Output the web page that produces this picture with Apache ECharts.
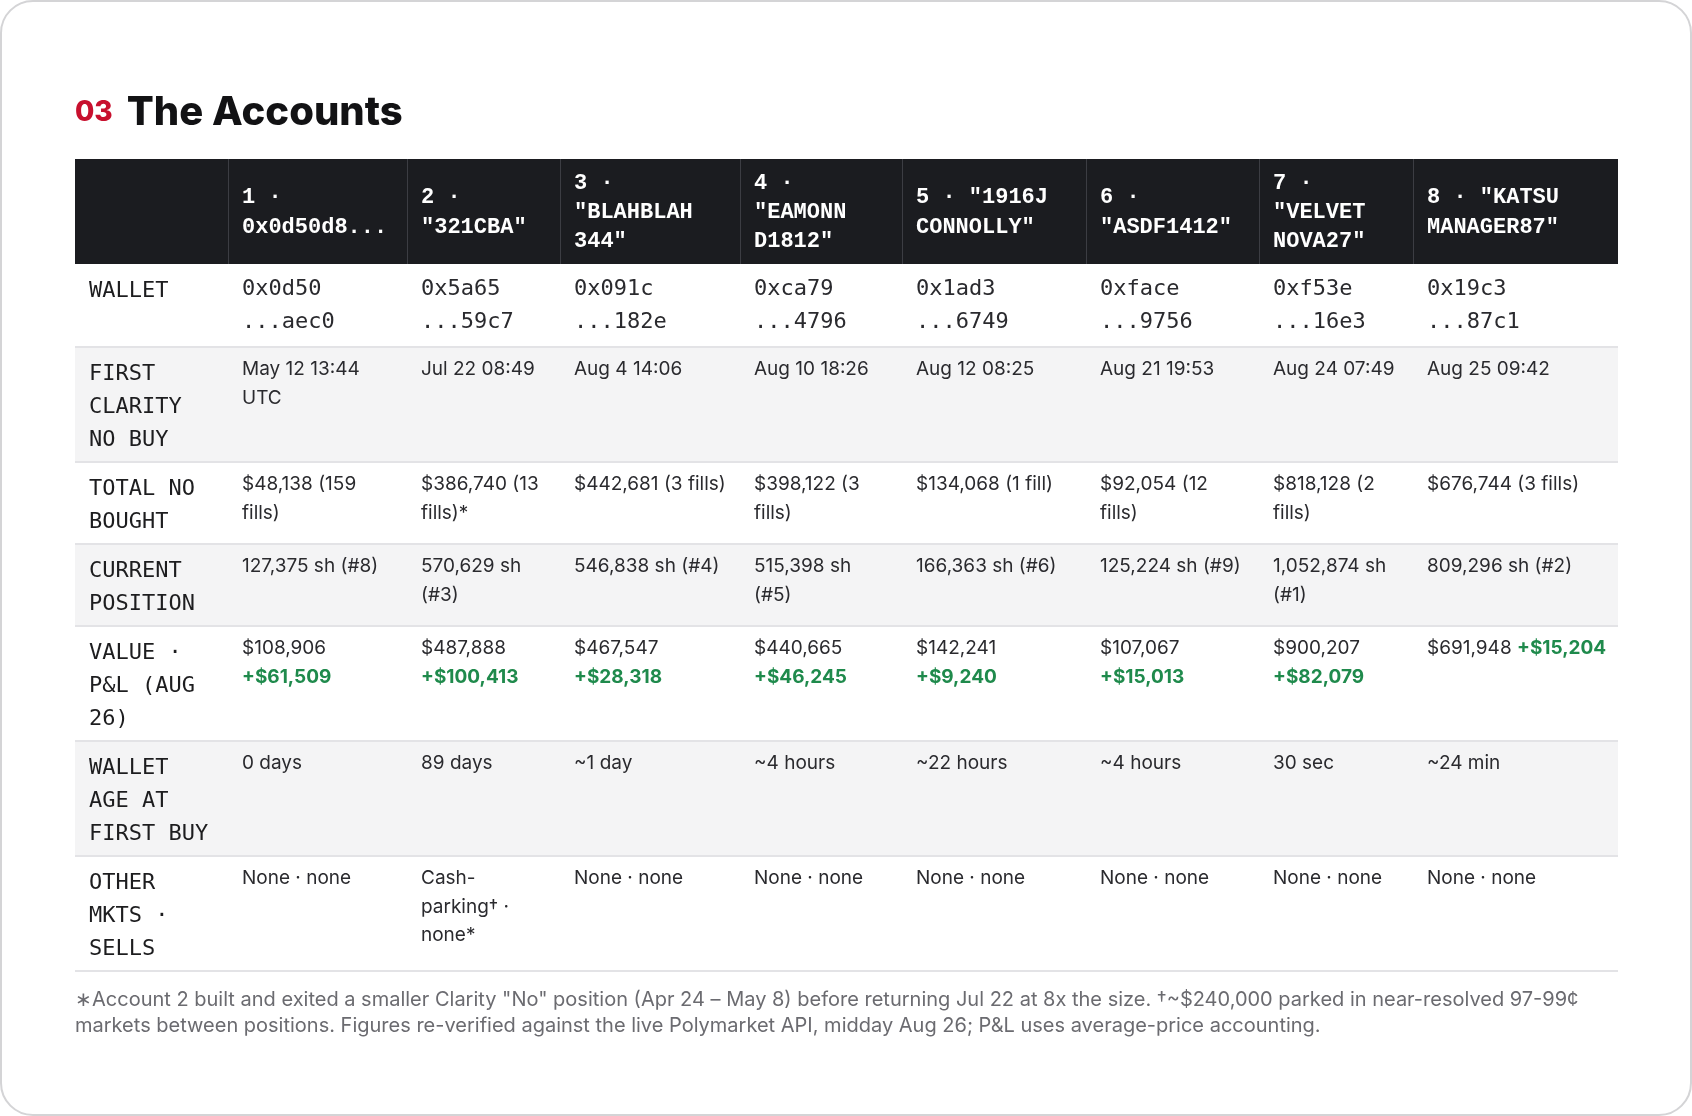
<!DOCTYPE html>
<html>
<head>
<meta charset="utf-8">
<script src="https://cdn.jsdelivr.net/npm/echarts@6/dist/echarts.min.js"></script>
<style>
html,body{margin:0;padding:0;background:#ffffff;}
#chart{width:1692px;height:1116px;}
</style>
</head>
<body>
<div id="chart"></div>
<script>
// ---------------- DATA ----------------
const sectionNumber = '03';
const sectionTitle = 'The Accounts';
const accountHeaders = ['1 · 0x0d50d8...', '2 · "321CBA"', '3 · "BLAHBLAH 344"', '4 · "EAMONN D1812"', '5 · "1916J CONNOLLY"', '6 · "ASDF1412"', '7 · "VELVET NOVA27"', '8 · "KATSU MANAGER87"'];
const rowLabels = ['WALLET', 'FIRST CLARITY NO BUY', 'TOTAL NO BOUGHT', 'CURRENT POSITION', 'VALUE · P&L (AUG 26)', 'WALLET AGE AT FIRST BUY', 'OTHER MKTS · SELLS'];
const wallets = ['0x0d50 ...aec0', '0x5a65 ...59c7', '0x091c ...182e', '0xca79 ...4796', '0x1ad3 ...6749', '0xface ...9756', '0xf53e ...16e3', '0x19c3 ...87c1'];
const firstBuys = ['May 12 13:44 UTC', 'Jul 22 08:49', 'Aug 4 14:06', 'Aug 10 18:26', 'Aug 12 08:25', 'Aug 21 19:53', 'Aug 24 07:49', 'Aug 25 09:42'];
const totalBought = ['$48,138 (159 fills)', '$386,740 (13 fills)*', '$442,681 (3 fills)', '$398,122 (3 fills)', '$134,068 (1 fill)', '$92,054 (12 fills)', '$818,128 (2 fills)', '$676,744 (3 fills)'];
const positions = ['127,375 sh (#8)', '570,629 sh (#3)', '546,838 sh (#4)', '515,398 sh (#5)', '166,363 sh (#6)', '125,224 sh (#9)', '1,052,874 sh (#1)', '809,296 sh (#2)'];
const values = ['$108,906', '$487,888', '$467,547', '$440,665', '$142,241', '$107,067', '$900,207', '$691,948'];
const pnls = ['+$61,509', '+$100,413', '+$28,318', '+$46,245', '+$9,240', '+$15,013', '+$82,079', '+$15,204'];
const walletAges = ['0 days', '89 days', '~1 day', '~4 hours', '~22 hours', '~4 hours', '30 sec', '~24 min'];
const otherMarkets = ['None · none', 'Cash-parking† · none*', 'None · none', 'None · none', 'None · none', 'None · none', 'None · none', 'None · none'];
const footnote = '∗Account 2 built and exited a smaller Clarity "No" position (Apr 24 – May 8) before returning Jul 22 at 8x the size. †~$240,000 parked in near-resolved 97-99¢ markets between positions. Figures re-verified against the live Polymarket API, midday Aug 26; P&L uses average-price accounting.';

// ---------------- LAYOUT / STYLE ----------------
const colEdges = [75, 228, 407, 560, 740, 902, 1086, 1259, 1413, 1618];
const headerTop = 159;
const padL = 14, padR = 11;
const F_HEADER = { fontFamily: "'Liberation Mono', monospace", fontSize: 22, fontWeight: 700, lineHeight: 29.2 };
const F_LABEL = { fontFamily: "'DejaVu Sans Mono', monospace", fontSize: 22, fontWeight: 400, lineHeight: 33 };
const F_MONO = { fontFamily: "'DejaVu Sans Mono', monospace", fontSize: 22, fontWeight: 400, lineHeight: 33 };
const F_SANS = { fontFamily: "Inter, 'Noto Sans', sans-serif", fontSize: 19, fontWeight: 400, lineHeight: 28.5 };
const F_BOLD = { fontFamily: "Inter, 'Noto Sans', sans-serif", fontSize: 19, fontWeight: 700, lineHeight: 28.5 };
const F_NOTE = { fontFamily: "Inter, 'Noto Sans', sans-serif", fontSize: 20, fontWeight: 400, lineHeight: 26 };
const C_HEADER_BG = '#1b1c20', C_HEADER_LINE = '#3c3d43', C_ZEBRA = '#f4f4f5', C_SEP = '#e3e3e6';
const C_LABEL = '#1d1d1f', C_TEXT = '#2a2a2e', C_GREEN = '#1f8a4c', C_RED = '#c8102e', C_NOTE = '#6b6b70';

const mctx = document.createElement('canvas').getContext('2d');
function cssFont(f) { return f.fontWeight + ' ' + f.fontSize + 'px ' + f.fontFamily; }
function tw(t, f) { mctx.font = cssFont(f); return mctx.measureText(t).width; }
function wrap(text, f, max) {
  const pieces = text.split(/(?<=[ \-])/);
  const lines = []; let cur = '';
  pieces.forEach(p => {
    const cand = cur + p;
    if (cur && tw(cand.trimEnd(), f) > max) { lines.push(cur.trimEnd()); cur = p; }
    else cur = cand;
  });
  if (cur) lines.push(cur.trimEnd());
  return lines;
}

const rows = [
  { label: rowLabels[0], kind: 'mono', cells: wallets },
  { label: rowLabels[1], kind: 'sans', cells: firstBuys },
  { label: rowLabels[2], kind: 'sans', cells: totalBought },
  { label: rowLabels[3], kind: 'sans', cells: positions },
  { label: rowLabels[4], kind: 'pnl', cells: values, extra: pnls },
  { label: rowLabels[5], kind: 'sans', cells: walletAges },
  { label: rowLabels[6], kind: 'sans', cells: otherMarkets }
];

const cells = [];
// header
const headerLines = accountHeaders.map((h, i) => wrap(h, F_HEADER, colEdges[i + 2] - colEdges[i + 1] - padL - padR));
const maxHeaderLines = Math.max.apply(null, headerLines.map(l => l.length));
const headerH = Math.round(maxHeaderLines * F_HEADER.lineHeight + 17);
for (let c = 0; c < 9; c++) {
  const x = colEdges[c], w = colEdges[c + 1] - colEdges[c];
  cells.push({
    x, y: headerTop, w, h: headerH, bg: C_HEADER_BG,
    leftLine: c > 0 ? C_HEADER_LINE : null,
    tx: x + padL, ty: headerTop + headerH / 2 + 1,
    style: c > 0 ? Object.assign({ text: headerLines[c - 1].join('\n'), fill: '#ffffff', align: 'left', verticalAlign: 'middle' }, F_HEADER) : null
  });
}
// body
let yf = headerTop + headerH;
const LABEL_TOP = 10.5, MONO_TOP = 9.2, SANS_TOP = 8.25, BOX_PAD = 16;
rows.forEach((row, ri) => {
  const labelLines = wrap(row.label, F_LABEL, colEdges[1] - colEdges[0] - padL - padR);
  let h = labelLines.length * F_LABEL.lineHeight + BOX_PAD;
  const contents = row.cells.map((v, ci) => {
    const avail = colEdges[ci + 2] - colEdges[ci + 1] - padL - padR;
    if (row.kind === 'mono') {
      const l = wrap(v, F_MONO, avail);
      h = Math.max(h, l.length * F_MONO.lineHeight + 17);
      return { top: MONO_TOP, style: Object.assign({ text: l.join('\n'), fill: C_TEXT }, F_MONO) };
    }
    if (row.kind === 'pnl') {
      const p = row.extra[ci];
      const same = tw(v, F_SANS) + tw(' ', F_SANS) + tw(p, F_BOLD) <= avail;
      const nl = same ? 1 : 2;
      h = Math.max(h, nl * F_SANS.lineHeight + 16);
      return {
        top: SANS_TOP,
        style: Object.assign({
          text: '{v|' + v + '}' + (same ? ' ' : '\n') + '{g|' + p + '}', fill: C_TEXT,
          rich: {
            v: Object.assign({ fill: C_TEXT }, F_SANS),
            g: Object.assign({ fill: C_GREEN }, F_BOLD)
          }
        }, F_SANS)
      };
    }
    const l = wrap(v, F_SANS, avail);
    h = Math.max(h, l.length * F_SANS.lineHeight + 16);
    return { top: SANS_TOP, style: Object.assign({ text: l.join('\n'), fill: C_TEXT }, F_SANS) };
  });
  const y = Math.round(yf), y2 = Math.round(yf + h), hh = y2 - y;
  const bg = ri % 2 === 1 ? C_ZEBRA : '#ffffff';
  cells.push({
    x: colEdges[0], y, w: colEdges[1] - colEdges[0], h: hh, bg, bottomLine: true,
    tx: colEdges[0] + padL, ty: y + LABEL_TOP,
    style: Object.assign({ text: labelLines.join('\n'), fill: C_LABEL, align: 'left', verticalAlign: 'top' }, F_LABEL)
  });
  contents.forEach((ct, ci) => {
    const x = colEdges[ci + 1], w = colEdges[ci + 2] - colEdges[ci + 1];
    cells.push({
      x, y, w, h: hh, bg, bottomLine: true,
      tx: x + padL, ty: y + ct.top,
      style: Object.assign({ align: 'left', verticalAlign: 'top' }, ct.style)
    });
  });
  yf += h;
});
const tableBottom = Math.round(yf);

// ---------------- CHART ----------------
const chart = echarts.init(document.getElementById('chart'), null, { renderer: 'canvas' });
const TITLE_NUM = { fontFamily: "Inter, sans-serif", fontSize: 28, fontWeight: 800 };
const TITLE_MAIN = { fontFamily: "Inter, sans-serif", fontSize: 40, fontWeight: 800 };
const titleX = colEdges[0];
const titleY = 113;
const footLines = wrap(footnote, F_NOTE, colEdges[9] - colEdges[0]);

chart.setOption({
  backgroundColor: '#ffffff',
  animation: false,
  graphic: [
    { type: 'rect', silent: true, z: -10, shape: { x: 1, y: 1, width: 1690, height: 1114, r: 32 }, style: { fill: 'none', stroke: '#d4d4d6', lineWidth: 2 } },
    { type: 'text', x: titleX, y: titleY, style: Object.assign({ text: sectionNumber, fill: C_RED, verticalAlign: 'middle' }, TITLE_NUM) },
    { type: 'text', x: titleX + tw(sectionNumber, TITLE_NUM) + 14, y: titleY, style: Object.assign({ text: sectionTitle, fill: '#121214', verticalAlign: 'middle' }, TITLE_MAIN) },
    { type: 'text', x: colEdges[0], y: tableBottom + 16, style: Object.assign({ text: footLines.join('\n'), fill: C_NOTE, verticalAlign: 'top' }, F_NOTE) }
  ],
  series: [{
    type: 'custom',
    coordinateSystem: 'none',
    silent: true,
    animation: false,
    data: cells.map((c, i) => [i]),
    renderItem: function (params) {
      const c = cells[params.dataIndex];
      const children = [];
      children.push({ type: 'rect', shape: { x: c.x, y: c.y, width: c.w, height: c.h }, style: { fill: c.bg } });
      if (c.leftLine) children.push({ type: 'line', z2: 5, shape: { x1: c.x + 0.5, y1: c.y, x2: c.x + 0.5, y2: c.y + c.h }, style: { stroke: c.leftLine, lineWidth: 1 } });
      if (c.bottomLine) children.push({ type: 'line', z2: 10, shape: { x1: c.x, y1: c.y + c.h, x2: c.x + c.w, y2: c.y + c.h }, style: { stroke: C_SEP, lineWidth: 2 } });
      if (c.style) children.push({ type: 'text', z2: 20, x: c.tx, y: c.ty, style: c.style });
      return { type: 'group', children: children };
    }
  }]
});
</script>
</body>
</html>
